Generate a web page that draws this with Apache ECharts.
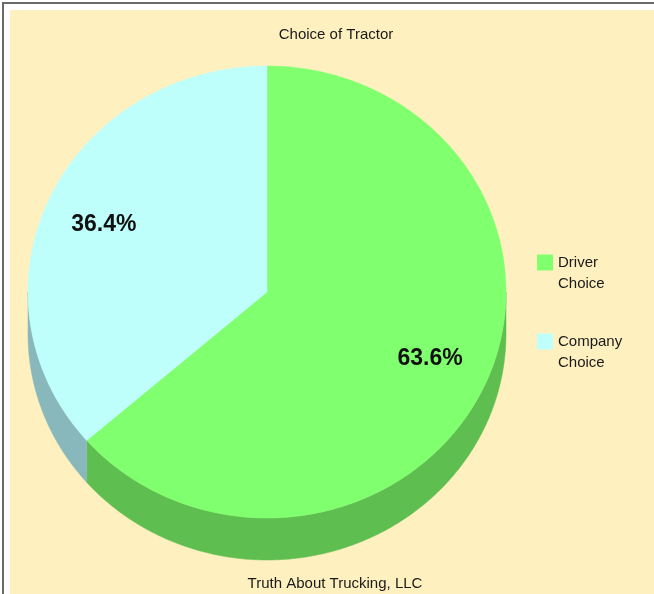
<!DOCTYPE html>
<html><head><meta charset="utf-8">
<script src="https://cdn.jsdelivr.net/npm/echarts@6/dist/echarts.min.js"></script>
<style>html,body{margin:0;padding:0;background:#fff}#c{width:654px;height:594px}</style>
</head><body><div id="c"></div>
<script>
const categories = ['Driver Choice', 'Company Choice'];
const values = [63.6, 36.4];
const topColors = ['#80FF6F', '#BFFFFB'];
const sideColors = ['#5EBE50', '#88B8BC'];
const titleText = 'Choice of Tractor';
const footerText = 'Truth About Trucking, LLC';

const FONT = "'Liberation Sans', Arial, sans-serif";
const total = values.reduce((a, b) => a + b, 0);
const CX = 267, CY = 292, RX = 239, RY = 226, DEPTH = 42, LABEL_FX = 0.75, LABEL_FY = 0.715;

function sliceAngles(i) {
  let before = 0;
  for (let k = 0; k < i; k++) before += values[k];
  const a0 = 90 - before / total * 360;
  const a1 = 90 - (before + values[i]) / total * 360;
  return [a1, a0];
}
function pt(deg, fx, fy, dy) {
  const r = deg * Math.PI / 180;
  return [CX + RX * fx * Math.cos(r), CY - RY * fy * Math.sin(r) + (dy || 0)];
}
function arc(from, to, dy) {
  const n = Math.max(2, Math.ceil(Math.abs(to - from) / 0.5));
  const pts = [];
  for (let j = 0; j <= n; j++) pts.push(pt(from + (to - from) * j / n, 1, 1, dy));
  return pts;
}
function makeRender(i) {
  return function (params, api) {
    const v = api.value(0);
    const [lo, hi] = sliceAngles(i);
    const children = [];
    for (let k = -2; k <= 1; k++) {
      const s = Math.max(lo, 180 + 360 * k), e = Math.min(hi, 360 + 360 * k);
      if (e > s) {
        children.push({
          type: 'polygon',
          shape: { points: arc(s, e, 0).concat(arc(e, s, DEPTH)) },
          style: { fill: sideColors[i], stroke: sideColors[i], lineWidth: 0.5 }
        });
      }
    }
    children.push({
      type: 'polygon',
      shape: { points: [[CX, CY]].concat(arc(hi, lo, 0)) },
      style: { fill: topColors[i], stroke: topColors[i], lineWidth: 0.5 }
    });
    const mid = (lo + hi) / 2;
    const lp = pt(mid, LABEL_FX, LABEL_FY, 0);
    children.push({
      type: 'text',
      z2: 10,
      style: {
        text: v.toFixed(1) + '%', x: lp[0], y: lp[1],
        align: 'center', verticalAlign: 'middle',
        font: "bold 23px " + FONT, fill: '#111'
      }
    });
    return { type: 'group', children: children };
  };
}

const chart = echarts.init(document.getElementById('c'), null, { renderer: 'canvas' });
chart.setOption({
  backgroundColor: '#ffffff',
  animation: false,
  title: [
    { text: titleText, left: 336, top: 26, textAlign: 'center', padding: 0,
      textStyle: { fontSize: 15, fontWeight: 'normal', color: '#1a1a1a', fontFamily: FONT, lineHeight: 18 } },
    { text: footerText, left: 335, top: 575, textAlign: 'center', padding: 0,
      textStyle: { fontSize: 15, fontWeight: 'normal', color: '#1a1a1a', fontFamily: FONT, lineHeight: 18 } }
  ],
  legend: {
    orient: 'vertical', left: 537, top: 231, padding: 0,
    itemWidth: 16, itemHeight: 16, itemGap: 16, icon: 'rect',
    data: categories,
    formatter: name => '\n' + name.replace(' ', '\n'),
    textStyle: { fontSize: 15, lineHeight: 21, color: '#1a1a1a', fontFamily: FONT }
  },
  graphic: [
    { type: 'rect', z: -10, shape: { x: 10, y: 10, width: 644, height: 584 }, style: { fill: '#FFF0C0' } },
    { type: 'rect', z: -9, shape: { x: 2, y: 2, width: 652, height: 2 }, style: { fill: '#6a6a6a' } },
    { type: 'rect', z: -9, shape: { x: 2, y: 2, width: 2, height: 592 }, style: { fill: '#6a6a6a' } }
  ],
  series: categories.map((name, i) => ({
    type: 'custom',
    name: name,
    coordinateSystem: 'none',
    itemStyle: { color: topColors[i] },
    data: [[values[i]]],
    renderItem: makeRender(i)
  }))
});
</script></body></html>
